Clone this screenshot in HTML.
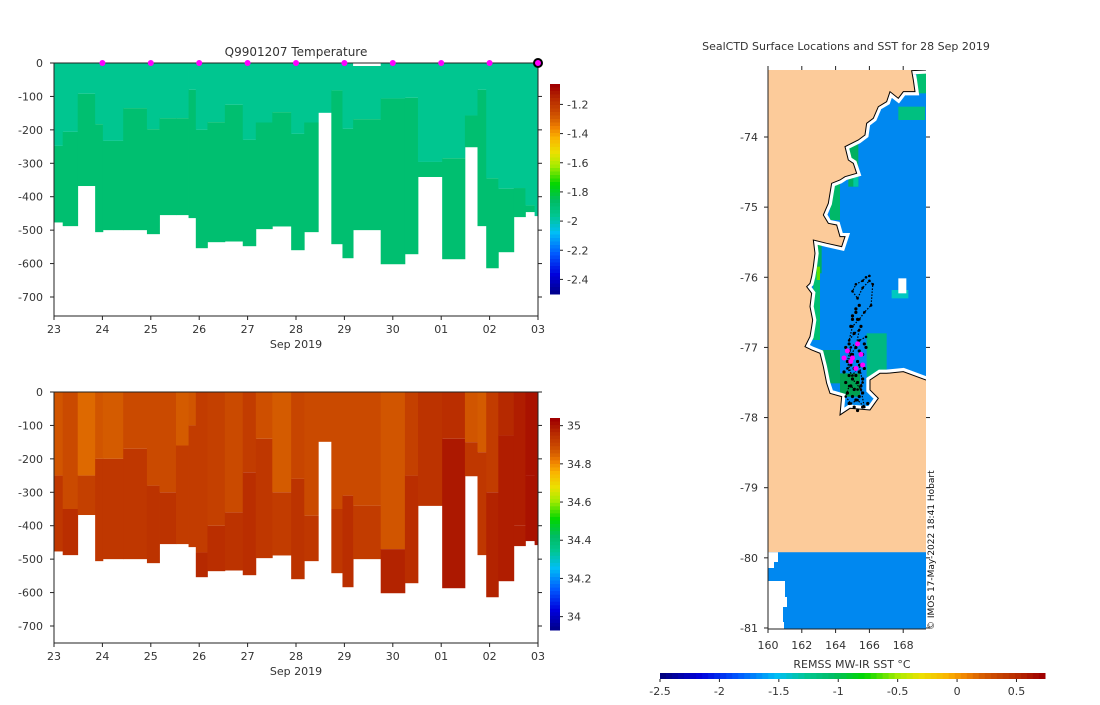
<!DOCTYPE html>
<html><head><meta charset="utf-8"><style>
body{margin:0;background:#fff;width:1100px;height:700px;overflow:hidden}
svg{font-family:"DejaVu Sans","Liberation Sans",sans-serif;font-size:11px;fill:#333}
</style></head><body>
<svg id="s" width="1100" height="700" xmlns="http://www.w3.org/2000/svg"></svg>
<script>
// ---- data ----
const colEdges=[0,0.18,0.49,0.85,1.01,1.43,1.92,2.18,2.52,2.78,2.93,3.17,3.53,3.90,4.17,4.51,4.90,5.17,5.46,5.73,5.96,6.18,6.75,7.25,7.52,8.02,8.49,8.75,8.93,9.18,9.50,9.74,9.93,10.04];
const bottomDepth=[477,488,368,506,500,500,512,455,455,464,554,536,534,548,497,489,560,506,149,542,584,500,602,572,341,587,252,488,614,566,461,446,458];
const tempLayerDepth=[248,206,92,183,233,135,198,165,165,80,200,177,125,230,178,147,212,178,149,82,197,168,106,104,296,285,157,80,345,376,374,426,458];
const tempUpper=-1.95, tempLower=-1.88;
const salUpper=[34.88,34.9,34.85,34.88,34.87,34.9,34.9,34.9,34.87,34.88,34.93,34.92,34.9,34.93,34.89,34.87,34.91,34.9,34.9,34.9,34.9,34.9,34.88,34.92,34.95,34.96,34.88,34.87,34.93,34.97,34.99,35.01,35.01];
const salLayerDepth=[250,350,250,200,200,170,280,300,160,100,480,400,360,240,140,300,260,370,149,350,310,340,470,250,340,140,150,180,300,130,400,250,458];
const salLower=[34.94,34.96,34.92,34.94,34.94,34.94,34.95,34.95,34.93,34.93,34.97,34.96,34.95,34.96,34.94,34.93,34.95,34.94,34.9,34.94,34.96,34.93,34.98,34.96,34.95,35.0,34.94,34.94,34.98,34.99,34.99,35.01,35.01];
const dayLabels=["23","24","25","26","27","28","29","30","01","02","03"];
const depthTicks=[0,-100,-200,-300,-400,-500,-600,-700];
const tempTicks=[-1.2,-1.4,-1.6,-1.8,-2,-2.2,-2.4];
const salTicks=[35,34.8,34.6,34.4,34.2,34];
const lonTicks=[160,162,164,166,168];
const latTicks=[-74,-75,-76,-77,-78,-79,-80,-81];
const sstTicks=[-2.5,-2,-1.5,-1,-0.5,0,0.5];
const profileLon=[165.3,164.7,165.0,165.5,164.9,165.6,165.2,164.5];
const profileLat=[-76.95,-77.05,-77.15,-77.1,-77.2,-77.25,-77.3,-77.15];
const trackLon=[166.0,165.8,165.6,165.2,165.0,165.3,165.6,166.0,166.2,166.1,165.7,165.4,165.0,164.8,165.1,165.4,165.2,164.9,164.7,165.0,165.4,165.6,165.3,164.8,164.6,164.9,165.3,165.7,165.5,165.0,164.7,164.9,165.4,165.8];
const trackLat=[-75.98,-76.0,-76.05,-76.1,-76.2,-76.3,-76.15,-76.05,-76.1,-76.4,-76.5,-76.6,-76.7,-76.9,-76.8,-76.75,-77.0,-77.1,-77.3,-77.4,-77.25,-77.5,-77.6,-77.55,-77.7,-77.8,-77.75,-77.85,-77.6,-77.45,-77.2,-77.0,-76.9,-76.85];
const clusterLon=[164.6,164.8,165.0,165.2,165.4,165.6,165.8,164.7,164.9,165.1,165.3,165.5,165.7,164.5,164.8,165.0,165.2,165.4,165.6,164.6,164.9,165.1,165.3,165.5,164.7,165.0,165.2,165.4,164.8,165.1,165.3,165.6,165.0,165.2,164.9,165.1,165.3,165.5,165.7,165.9,165.4,165.2,165.0,164.8,165.6];
const clusterLat=[-77.0,-77.05,-77.1,-77.0,-77.05,-77.1,-77.0,-77.2,-77.25,-77.3,-77.2,-77.25,-77.3,-77.35,-77.4,-77.45,-77.4,-77.35,-77.45,-77.5,-77.55,-77.6,-77.5,-77.55,-77.65,-77.7,-77.75,-77.7,-77.8,-77.85,-77.9,-77.85,-76.6,-76.5,-76.7,-76.8,-76.6,-76.7,-76.95,-77.8,-76.4,-76.45,-76.55,-76.95,-77.65];

const S=document.getElementById('s');
const NS='http://www.w3.org/2000/svg';
function el(t,a,p){const e=document.createElementNS(NS,t);for(const k in a)e.setAttribute(k,a[k]);(p||S).appendChild(e);return e;}
function txt(x,y,s,a,p){const e=el('text',Object.assign({x:x,y:y},a||{}),p);e.textContent=s;return e;}
const stops=[[0,[0,0,128]],[0.1,[0,0,220]],[0.2,[0,90,255]],[0.3,[0,190,245]],[0.38,[0,198,145]],[0.45,[0,188,100]],[0.53,[0,215,0]],[0.62,[170,235,0]],[0.68,[235,225,0]],[0.75,[250,180,0]],[0.80,[240,130,0]],[0.84,[215,95,0]],[0.88,[200,70,0]],[0.93,[185,45,0]],[0.97,[170,20,0]],[1,[160,0,0]]];
function jet(t){t=Math.max(0,Math.min(1,t));for(let i=1;i<stops.length;i++){if(t<=stops[i][0]){const a=stops[i-1],b=stops[i],f=(t-a[0])/(b[0]-a[0]);const c=a[1].map((v,j)=>Math.round(v+(b[1][j]-v)*f));return 'rgb('+c.join(',')+')';}}return 'rgb(160,0,0)';}

function panel(y0,y7,yb,cbTop,cbBot,vTop,vBot,ticks,fill,name,title){
  const x0=54,x1=538;
  const xs=d=>x0+(x1-x0)*d/10, ys=d=>y0+(y7-y0)*d/700;
  const g=el('g',{});
  for(let i=0;i<bottomDepth.length;i++){
    const xa=xs(colEdges[i]),xb=Math.min(xs(colEdges[i+1]),x1);
    fill(i).forEach(([d0,d1,v])=>{
      const r=el('rect',{x:xa,y:ys(d0),width:xb-xa+0.4,height:ys(d1)-ys(d0),fill:v},g);
      
      
    });
  }
  el('rect',{x:x0,y:y0,width:x1-x0,height:yb-y0,fill:'none',stroke:'#222','stroke-width':1},g);
  depthTicks.forEach(v=>{const y=ys(-v);el('line',{x1:x0,x2:x0-4,y1:y,y2:y,stroke:'#222'},g);el('line',{x1:x1,x2:x1+4,y1:y,y2:y,stroke:'#222'},g);txt(x0-11,y+4,String(v),{'text-anchor':'end',},g);});
  dayLabels.forEach((l,i)=>{const x=xs(i);el('line',{x1:x,x2:x,y1:yb,y2:yb+4,stroke:'#222'},g);txt(x,yb+17,l,{'text-anchor':'middle',},g);});
  txt(296,yb+32,'Sep 2019',{'text-anchor':'middle',},g);
  if(title) txt(296,y0-7,title,{'text-anchor':'middle','font-size':'12px',},g);
  const cg=el('g',{},g);
  const n=60;for(let k=0;k<n;k++){const y=cbTop+(cbBot-cbTop)*k/n;el('rect',{x:550,y:y,width:10,height:(cbBot-cbTop)/n+0.5,fill:jet(1-k/n)},cg);}
  ticks.forEach(v=>{const y=cbTop+(cbBot-cbTop)*(vTop-v)/(vTop-vBot);el('line',{x1:560,x2:563,y1:y,y2:y,stroke:'#222'},cg);txt(567,y+4,String(v),{},cg);});
  return {xs,ys};
}
const tMin=-2.5,tMax=-1.06;
const P1=panel(63,297,316,84,294,tMax,tMin,tempTicks,i=>{const L=Math.min(tempLayerDepth[i],bottomDepth[i]);const r=[[0,L,jet((tempUpper-tMin)/(tMax-tMin))]];if(bottomDepth[i]>L)r.push([L,bottomDepth[i],jet((tempLower-tMin)/(tMax-tMin))]);return r;},'temperature-panel','Q9901207  Temperature');
el('rect',{x:P1.xs(6.18),y:63,width:P1.xs(6.75)-P1.xs(6.18),height:3,fill:'#fff'});
const sMin=33.93,sMax=35.04;
const P2=panel(392,626,643,418,630,sMax,sMin,salTicks,i=>{const L=Math.min(salLayerDepth[i],bottomDepth[i]);const r=[[0,L,jet((salUpper[i]-sMin)/(sMax-sMin))]];if(bottomDepth[i]>L)r.push([L,bottomDepth[i],jet((salLower[i]-sMin)/(sMax-sMin))]);return r;},'salinity-panel',null);
el('line',{x1:54,x2:538,y1:63,y2:63,stroke:'#222'});
for(let d=1;d<=9;d++){const m=el('circle',{cx:P1.xs(d),cy:63,r:3,fill:'#f0f'});}
el('circle',{cx:P1.xs(10),cy:63,r:4,fill:'#f0f',stroke:'#000','stroke-width':2,});

// ---- map ----
const mx0=768,mx1=926,my0=70,my1=629;
const lx=lon=>768+(lon-160)*16.9, ly=lat=>137+(-74-lat)*70.14;
const mg=el('g',{});
txt(846,50,'SealCTD Surface Locations and SST for 28 Sep 2019',{'text-anchor':'middle',},mg);
el('rect',{x:mx0,y:my0,width:mx1-mx0,height:my1-my0,fill:'#fccb9a'},mg);
const defs=el('defs',{});
const cp=el('clipPath',{id:'pc'},defs);el('rect',{x:mx0,y:my0,width:mx1-mx0,height:my1-my0},cp);
const coast="588,30 545,32 550,60 555,95 520,95 505,115 480,95 470,125 445,140 430,175 410,190 405,225 385,240 345,260 355,300 370,310 380,340 345,350 330,360 305,370 300,400 295,430 280,465 295,490 320,495 330,530 345,530 335,560 290,550 250,540 255,580 250,620 245,650 240,670 230,680 245,700 240,740 248,780 245,800 240,830 225,860 245,870 270,880 280,920 290,970 300,1000 335,1010 330,1065 360,1045 420,1050 445,1015 420,990 420,960 450,940 470,940 520,935 588,960 640,960 640,30";
const cp2=el('clipPath',{id:'oc'},defs);el('polygon',{points:coast,transform:'translate(730,60) scale(0.3333)'},cp2);
const og=el('g',{'clip-path':'url(#pc)',},mg);
const ig=el('g',{'clip-path':'url(#oc)'},og);
el('rect',{x:760,y:60,width:180,height:400,fill:'#0088f0'},ig);
[[245,540,30,100,'#00b060'],[250,640,20,200,'#00c070'],[260,620,10,40,'#60e000'],[300,370,30,110,'#00b868'],[355,250,30,130,'#00b060'],[370,320,15,60,'#00c8a0'],[505,140,80,40,'#00c080'],[270,870,60,100,'#00a860'],[410,820,60,130,'#00b880'],[330,940,60,70,'#00a050'],[560,40,30,60,'#00c070'],[485,690,50,25,'#00c8c0']].forEach(r=>{el('rect',{x:730+r[0]/3,y:60+r[1]/3,width:r[2]/3,height:r[3]/3,fill:r[4]},ig);});
el('rect',{x:730+505/3,y:60+655/3,width:8,height:15,fill:'#fff'},ig);
el('polygon',{points:coast,transform:'translate(730,60) scale(0.3333)',fill:'none',stroke:'#fff','stroke-width':22},ig);
el('polygon',{points:coast,transform:'translate(730,60) scale(0.3333)',fill:'none',stroke:'#000','stroke-width':3},og);
el('rect',{x:mx0,y:ly(-79.92),width:mx1-mx0,height:my1-ly(-79.92),fill:'#0088f0',},mg);
el('polygon',{points:`768,${ly(-79.92)} 778,${ly(-79.92)} 778,562 774,562 774,568 768,568`,fill:'#fff'},mg);
el('polygon',{points:`768,581 785,581 785,597 787,597 787,607 783,607 783,622 784,622 784,629 768,629`,fill:'#fff'},mg);
let pts='';trackLon.forEach((v,i)=>pts+=lx(v)+','+ly(trackLat[i])+' ');
el('polyline',{points:pts,fill:'none',stroke:'#000','stroke-width':1.2,'stroke-dasharray':'1.5 1.5',},mg);
trackLon.forEach((v,i)=>{const c=el('circle',{cx:lx(v),cy:ly(trackLat[i]),r:1.3,fill:'#000'},mg);});
clusterLon.forEach((v,i)=>{const c=el('circle',{cx:lx(v),cy:ly(clusterLat[i]),r:1.6,fill:'#000'},mg);});
profileLon.forEach((v,i)=>{const c=el('circle',{cx:lx(v),cy:ly(profileLat[i]),r:2.5,fill:'#f0f'},mg);});
el('line',{x1:mx0,x2:mx0,y1:my0,y2:my1,stroke:'#222'},mg);el('line',{x1:mx0,x2:mx1,y1:my1,y2:my1,stroke:'#222'},mg);
lonTicks.forEach(v=>{const x=lx(v);el('line',{x1:x,x2:x,y1:my1,y2:my1+4,stroke:'#222'},mg);el('line',{x1:x,x2:x,y1:my0-4,y2:my0,stroke:'#222'},mg);txt(x,649,String(v),{'text-anchor':'middle',},mg);});
latTicks.forEach(v=>{const y=ly(v);el('line',{x1:mx0-4,x2:mx0,y1:y,y2:y,stroke:'#222'},mg);el('line',{x1:mx1,x2:mx1+4,y1:y,y2:y,stroke:'#222'},mg);txt(758,y+4,String(v),{'text-anchor':'end',},mg);});
txt(0,0,'© IMOS 17-May-2022 18:41 Hobart',{transform:'translate(934,630) rotate(-90)','font-size':'9px',fill:'#111',},mg);
const sg=el('g',{});
const sLo=-2.5,sHi=0.74,cx0=660,cx1=1045;
for(let k=0;k<64;k++){el('rect',{x:cx0+(cx1-cx0)*k/64,y:673,width:(cx1-cx0)/64+0.5,height:6,fill:jet(k/63)},sg);}
txt(852,668,'REMSS MW-IR SST °C',{'text-anchor':'middle',},sg);
sstTicks.forEach(v=>{const x=cx0+(cx1-cx0)*(v-sLo)/(sHi-sLo);el('line',{x1:x,x2:x,y1:679,y2:682,stroke:'#222'},sg);txt(x,695,String(v),{'text-anchor':'middle',},sg);});
</script>
</body></html>
